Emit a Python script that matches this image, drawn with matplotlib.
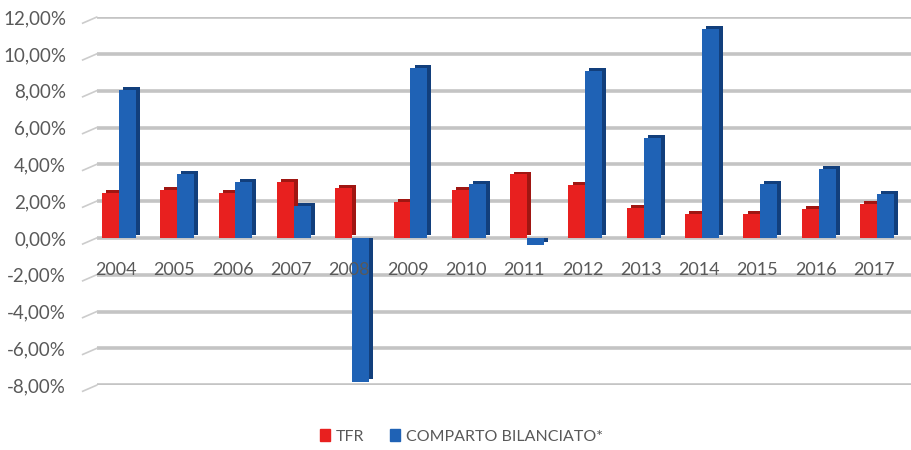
import matplotlib
matplotlib.use("Agg")
from matplotlib import pyplot as plt
from matplotlib.patches import Patch
import numpy as np

# data
years = ["2004", "2005", "2006", "2007", "2008", "2009", "2010",
         "2011", "2012", "2013", "2014", "2015", "2016", "2017"]
tfr = [2.45, 2.6, 2.45, 3.05, 2.7, 1.95, 2.6, 3.45, 2.9, 1.65, 1.3, 1.3, 1.6, 1.85]
comparto = [8.05, 3.5, 3.05, 1.75, -7.85, 9.25, 2.95, -0.4, 9.05, 5.45, 11.35, 2.95, 3.75, 2.4]
yticks = [-8, -6, -4, -2, 0, 2, 4, 6, 8, 10, 12]

plt.rcParams['font.family'] = ['Lato', 'DejaVu Sans']

red = '#e8201f'
red_dark = '#a01612'
blue = '#1f62b5'
blue_dark = '#123f7c'
text_col = '#595959'

fig = plt.figure(figsize=(9.12, 4.5), dpi=100)
ax = fig.add_axes([0.106, 0.144, 0.894, 0.818])

x = np.arange(len(years))
w = 0.29
# fake 3D depth
dx = 0.07
dy = 0.16

# gridlines plus little slanted stubs on the left
xmin, xmax = -0.38, 13.6
for t in yticks:
    ax.axhline(t, color='#c4c4c4', lw=2.6, zorder=0)
    ax.plot([xmin - 0.24, xmin], [t - 0.33, t], color='#cccccc', lw=1.2,
            clip_on=False, zorder=0)

# shadow (side + top) of the bars
def shadow(vals):
    bottoms = [dy if v > 0 else 0 for v in vals]
    heights = [v if v > 0 else v + dy for v in vals]
    return bottoms, heights

b, h = shadow(tfr)
ax.bar(x - w / 2 + dx, h, w, bottom=b, color=red_dark, zorder=2)
b, h = shadow(comparto)
ax.bar(x + w / 2 + dx, h, w, bottom=b, color=blue_dark, zorder=2)
# front faces
ax.bar(x - w / 2, tfr, w, color=red, zorder=3)
ax.bar(x + w / 2, comparto, w, color=blue, zorder=4)

# year labels sit on the -2% line
for xi, yr in zip(x, years):
    ax.text(xi - 0.05, -1.75, yr, ha='center', va='center', fontsize=13,
            color=text_col, zorder=5)

ax.set_xlim(xmin, xmax)
ax.set_ylim(-8, 12)
ax.set_xticks([])
ax.set_yticks(yticks)
ax.set_yticklabels([("%.2f%%" % t).replace('.', ',') for t in yticks],
                   fontsize=13.5, color=text_col)
ax.tick_params(axis='y', length=0, pad=22)
for s in ax.spines.values():
    s.set_visible(False)

handles = [Patch(color=red, label='TFR'),
           Patch(color=blue, label='COMPARTO BILANCIATO*')]
fig.legend(handles=handles, loc='center', bbox_to_anchor=(0.506, 0.03),
           ncol=2, frameon=False, fontsize=11.5, handlelength=0.6,
           handleheight=0.8, handletextpad=0.4, columnspacing=1.6,
           labelcolor=text_col)

fig.savefig('out.png', dpi=100)
